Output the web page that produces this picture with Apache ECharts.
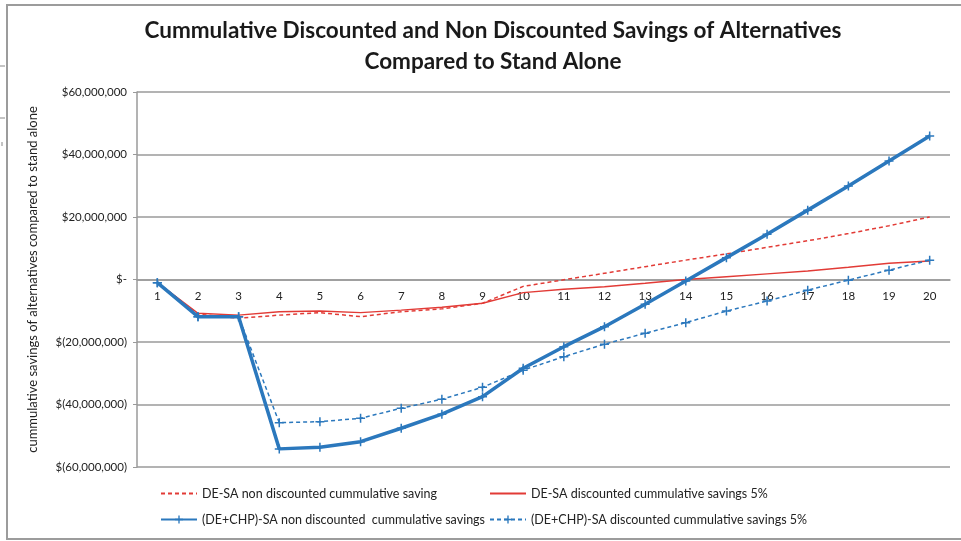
<!DOCTYPE html>
<html>
<head>
<meta charset="utf-8">
<script src="https://cdn.jsdelivr.net/npm/echarts@6/dist/echarts.min.js"></script>
<style>
  html, body { margin: 0; padding: 0; background: #ffffff; }
  #chart { width: 961px; height: 541px; }
</style>
</head>
<body>
<div id="chart"></div>
<script>
// Years of operation
const years = ['1','2','3','4','5','6','7','8','9','10','11','12','13','14','15','16','17','18','19','20'];

// DE-SA cumulative savings (USD)
const deNonDiscounted = [-1.0e6, -11.1e6, -12.4e6, -11.4e6, -10.6e6, -11.9e6, -10.3e6, -9.4e6, -7.6e6, -2.2e6,
  -0.1e6, 2.0e6, 4.1e6, 6.2e6, 8.2e6, 10.3e6, 12.4e6, 14.7e6, 17.2e6, 20.0e6];
const deDiscounted = [-1.0e6, -10.8e6, -11.4e6, -10.3e6, -10.1e6, -10.6e6, -9.8e6, -8.9e6, -7.6e6, -4.2e6,
  -3.1e6, -2.3e6, -1.2e6, 0.0e6, 0.9e6, 1.8e6, 2.7e6, 3.9e6, 5.2e6, 5.9e6];

// (DE+CHP)-SA cumulative savings (USD)
const chpNonDiscounted = [-1.0e6, -11.9e6, -11.9e6, -54.2e6, -53.7e6, -51.9e6, -47.6e6, -43.1e6, -37.5e6, -28.4e6,
  -21.5e6, -15.1e6, -7.9e6, -0.5e6, 7.0e6, 14.5e6, 22.2e6, 29.9e6, 37.9e6, 45.9e6];
const chpDiscounted = [-1.0e6, -11.9e6, -11.9e6, -45.8e6, -45.5e6, -44.4e6, -41.2e6, -38.3e6, -34.5e6, -29.0e6,
  -24.7e6, -20.7e6, -17.2e6, -13.8e6, -10.1e6, -6.9e6, -3.4e6, -0.2e6, 3.0e6, 6.2e6];

// Value axis range and step
const yMin = -60000000;
const yMax = 60000000;
const yStep = 20000000;

const seriesNames = [
  'DE-SA non discounted cummulative saving',
  'DE-SA discounted cummulative savings 5%',
  '(DE+CHP)-SA non discounted  cummulative savings',
  '(DE+CHP)-SA discounted cummulative savings 5%'
];

const FONT = 'Lato, "Open Sans", sans-serif';
const RED = '#e23b36';
const BLUE = '#2b78bd';
const GRID = '#9a9a9a';
const PLUS = 'path://M-1,-6 L1,-6 L1,-1 L6,-1 L6,1 L1,1 L1,6 L-1,6 L-1,1 L-6,1 L-6,-1 L-1,-1 Z';

const GRID_TOP = 92, GRID_BOTTOM = 74, CHART_H = 541;

function money(v) {
  if (v === 0) return '$-';
  const s = Math.abs(v).toLocaleString('en-US');
  return v < 0 ? '$(' + s + ')' : '$' + s;
}

function legendAt(name, left, top, hideSymbol) {
  const l = {
    data: [name], left: left, top: top,
    itemWidth: 36, itemHeight: 10, padding: 0,
    textStyle: { fontFamily: FONT, fontSize: 12.5, color: '#222' }
  };
  if (hideSymbol) l.itemStyle = { opacity: 0 };
  return l;
}

// distance from the bottom of the plot up to the zero line
const plotH = CHART_H - GRID_TOP - GRID_BOTTOM;
const zeroOffset = plotH * (0 - yMin) / (yMax - yMin);

const chart = echarts.init(document.getElementById('chart'));
chart.setOption({
  backgroundColor: '#ffffff',
  animation: false,
  title: {
    text: 'Cummulative Discounted and Non Discounted Savings of Alternatives\nCompared to Stand Alone',
    left: 488, top: 10, textAlign: 'center',
    textStyle: { fontFamily: FONT, fontSize: 22.5, fontWeight: 'bold', color: '#1a1a1a', lineHeight: 31 }
  },
  legend: [
    legendAt(seriesNames[0], 160, 487, true),
    legendAt(seriesNames[1], 489, 487, true),
    legendAt(seriesNames[2], 160, 513, false),
    legendAt(seriesNames[3], 489, 513, false)
  ],
  grid: { left: 137, right: 11, top: GRID_TOP, bottom: GRID_BOTTOM },
  xAxis: {
    type: 'category',
    data: years,
    boundaryGap: true,
    position: 'bottom',
    offset: -zeroOffset,
    axisLine: { onZero: false, lineStyle: { color: GRID, width: 1.5 } },
    axisTick: { show: false },
    axisLabel: { fontFamily: FONT, fontSize: 11.5, color: '#222', margin: 11 }
  },
  yAxis: {
    type: 'value',
    min: yMin, max: yMax, interval: yStep,
    name: 'cummulative savings of alternatives compared to stand alone',
    nameLocation: 'middle', nameGap: 98, nameRotate: 90,
    nameTextStyle: { fontFamily: FONT, fontSize: 13, color: '#222' },
    axisLine: { show: true, lineStyle: { color: GRID, width: 1.5 } },
    axisTick: { show: true, length: 4, lineStyle: { color: GRID } },
    splitLine: { lineStyle: { color: GRID, width: 1.5 } },
    axisLabel: { fontFamily: FONT, fontSize: 11.5, color: '#222', margin: 10, formatter: money }
  },
  series: [
    {
      name: seriesNames[0], type: 'line', data: deNonDiscounted,
      symbol: 'none', color: RED,
      lineStyle: { color: RED, width: 1.5, type: [4, 3] }
    },
    {
      name: seriesNames[1], type: 'line', data: deDiscounted,
      symbol: 'none', color: RED,
      lineStyle: { color: RED, width: 1.5 }
    },
    {
      name: seriesNames[3], type: 'line', data: chpDiscounted,
      symbol: PLUS, symbolSize: 9, color: BLUE,
      itemStyle: { color: BLUE },
      lineStyle: { color: BLUE, width: 1.5, type: [4, 3] }
    },
    {
      name: seriesNames[2], type: 'line', data: chpNonDiscounted,
      symbol: PLUS, symbolSize: 9, color: BLUE,
      itemStyle: { color: BLUE },
      lineStyle: { color: BLUE, width: 3.5 }
    }
  ],
  graphic: [
    // chart frame
    { type: 'polyline', silent: true,
      shape: { points: [[966, 5], [7, 5], [7, 539], [966, 539]] },
      style: { stroke: '#9c9c9c', lineWidth: 2, fill: null } },
    // cell edges to the left of the frame
    { type: 'line', silent: true, shape: { x1: 0, y1: 66, x2: 5, y2: 66 }, style: { stroke: '#888', lineWidth: 1 } },
    { type: 'line', silent: true, shape: { x1: 0, y1: 118, x2: 5, y2: 118 }, style: { stroke: '#888', lineWidth: 1 } },
    { type: 'line', silent: true, shape: { x1: 2, y1: 142, x2: 2, y2: 146 }, style: { stroke: '#888', lineWidth: 1 } }
  ]
});
</script>
</body>
</html>
